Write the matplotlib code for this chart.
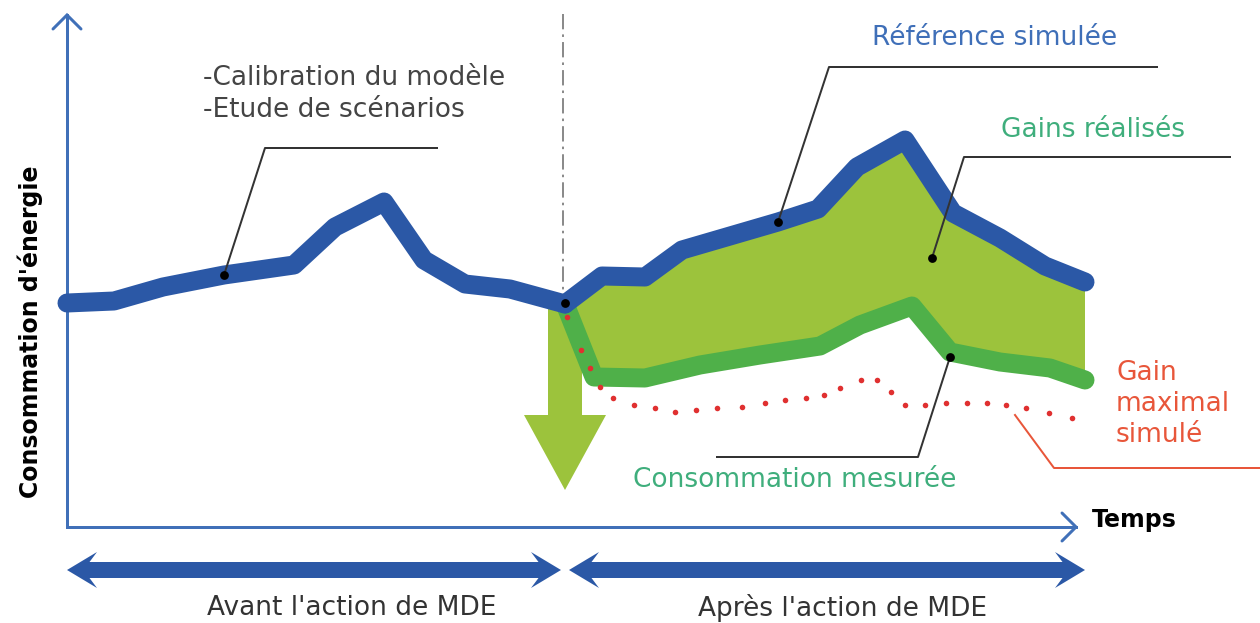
import numpy as np
import matplotlib.pyplot as plt

# schematic curves (pixel-like units: x = time, y = energy drawn downward)
ref_before_x = [67, 114, 163, 224, 294, 335, 384, 424, 465, 510, 565]
ref_before_y = [303, 301, 287, 275, 265, 227, 202, 260, 284, 289, 304]
ref_after_x = [565, 602, 645, 682, 730, 778, 818, 857, 905, 953, 1000, 1045, 1085]
ref_after_y = [304, 276, 277, 250, 236, 222, 209, 167, 140, 213, 238, 266, 282]
meas_x = [565, 594, 645, 700, 760, 820, 860, 912, 950, 1000, 1050, 1085]
meas_y = [304, 377, 378, 365, 355, 346, 325, 306, 352, 362, 368, 380]
max_x = [567, 581, 590, 600, 613, 634, 655, 675, 696, 717, 742, 765, 785, 806,
         824, 840, 861, 877, 891, 905, 925, 946, 967, 987, 1006, 1026, 1049, 1072]
max_y = [317, 350, 368, 387, 398, 405, 408, 412, 410, 408, 407, 403, 400, 398,
         395, 388, 380, 380, 392, 405, 405, 403, 403, 403, 405, 408, 413, 418]

BLUE = '#2b58a6'
AXIS_BLUE = '#4070b8'
GREEN = '#4fb049'
FILL = '#9cc33c'
TEXT_GREEN = '#3fae7c'
RED = '#e8563a'
GREY = '#333333'

PX = 0.72  # points per pixel at dpi 100

fig = plt.figure(figsize=(12.6, 6.23), dpi=100)
ax = fig.add_axes([0, 0, 1, 1])
ax.set_xlim(0, 1260)
ax.set_ylim(623, 0)
ax.axis('off')

# axes with open chevrons
ax.plot([67, 67], [527, 15], color=AXIS_BLUE, lw=3 * PX, zorder=2)
ax.plot([53, 67, 81], [29, 15, 29], color=AXIS_BLUE, lw=3 * PX, zorder=2,
        solid_capstyle='round', solid_joinstyle='miter')
ax.plot([67, 1076], [527, 527], color=AXIS_BLUE, lw=3 * PX, zorder=2)
ax.plot([1062, 1076, 1062], [513, 527, 541], color=AXIS_BLUE, lw=3 * PX, zorder=2,
        solid_capstyle='round', solid_joinstyle='miter')

# separation line
ax.plot([563, 563], [14, 304], color='#777777', lw=1.7 * PX,
        linestyle=(0, (9, 3, 1.5, 3)), zorder=1)

# big green arrow
ax.arrow(565, 300, 0, 190, width=34, head_width=82, head_length=75,
         length_includes_head=True, color=FILL, lw=0, zorder=2)

# gain area
poly_x = ref_after_x + meas_x[::-1]
poly_y = ref_after_y + meas_y[::-1]
ax.fill(poly_x, poly_y, color=FILL, lw=0, zorder=3)

ax.plot(meas_x, meas_y, color=GREEN, lw=19 * PX, solid_capstyle='round',
        solid_joinstyle='round', zorder=4)
ax.plot(ref_before_x, ref_before_y, color=BLUE, lw=19 * PX, solid_capstyle='round',
        solid_joinstyle='round', zorder=5)
ax.plot(ref_after_x, ref_after_y, color=BLUE, lw=19 * PX, solid_capstyle='round',
        solid_joinstyle='round', zorder=5)
ax.scatter(max_x, max_y, s=16, color='#e03030', lw=0, zorder=6)

# leader lines
ax.plot([224, 265, 437], [275, 148, 148], color=GREY, lw=2 * PX, zorder=7)
ax.plot([778, 829, 1157], [222, 67, 67], color=GREY, lw=2 * PX, zorder=7)
ax.plot([932, 964, 1230], [258, 157, 157], color=GREY, lw=2 * PX, zorder=7)
ax.plot([950, 918, 717], [357, 457, 457], color=GREY, lw=2 * PX, zorder=7)
ax.plot([1015, 1054, 1260], [415, 468, 468], color=RED, lw=2 * PX, zorder=7)
dots_x = [224, 778, 932, 950, 565]
dots_y = [275, 222, 258, 357, 303]
ax.scatter(dots_x, dots_y, s=40, color='black', lw=0, zorder=8)

# period double arrows
for x0, x1 in [(67, 561), (569, 1085)]:
    mid = (x0 + x1) / 2
    for end in (x0, x1):
        ax.arrow(mid, 570, end - mid, 0, width=16, head_width=36, head_length=30,
                 overhang=0.25, length_includes_head=True, color=BLUE, lw=0, zorder=3)

fs = 19
ax.text(203, 78, '-Calibration du modèle', fontsize=fs, color='#444444', va='center', ha='left')
ax.text(203, 110, '-Etude de scénarios', fontsize=fs, color='#444444', va='center', ha='left')
ax.text(995, 38, 'Référence simulée', fontsize=fs, color='#3f6fb8', va='center', ha='center')
ax.text(1093, 130, 'Gains réalisés', fontsize=fs, color=TEXT_GREEN, va='center', ha='center')
ax.text(795, 480, 'Consommation mesurée', fontsize=fs, color=TEXT_GREEN, va='center', ha='center')
ax.text(1116, 404, 'Gain\nmaximal\nsimulé', fontsize=fs, color=RED, va='center', ha='left',
        linespacing=1.25)
ax.text(1092, 520, 'Temps', fontsize=17, fontweight='heavy', color='black', va='center', ha='left')
ax.text(30, 332, "Consommation d'énergie", fontsize=17, fontweight='heavy', color='black',
        va='center', ha='center', rotation=90)
ax.text(352, 608, "Avant l'action de MDE", fontsize=fs, color='#333333', va='center', ha='center')
ax.text(842, 608, "Après l'action de MDE", fontsize=fs, color='#333333', va='center', ha='center')

fig.savefig('out.png', dpi=100)
